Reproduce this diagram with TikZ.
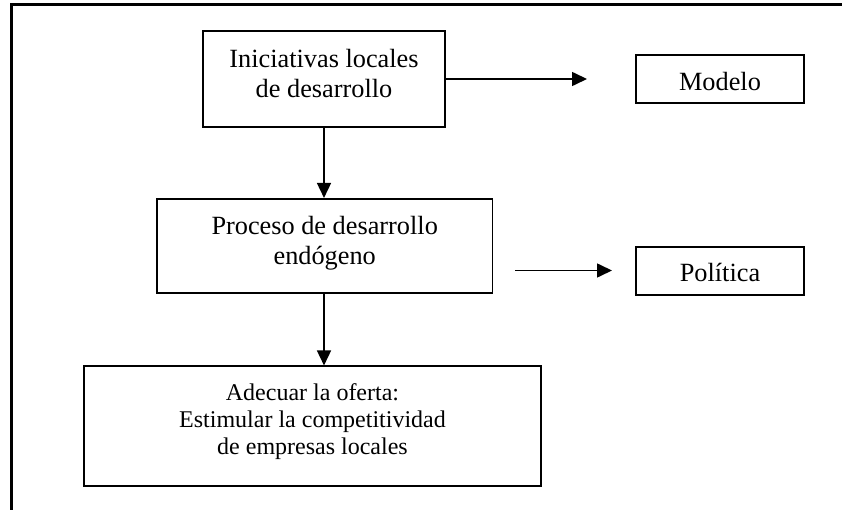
\documentclass[tikz,border=0pt]{standalone}
\usepackage{fontspec}
\setmainfont{Liberation Serif}
\usetikzlibrary{arrows.meta}
\begin{document}
\begin{tikzpicture}[x=1pt,y=-1pt,
  box/.style={draw,line width=1.6pt,rectangle,inner sep=0pt,align=center,
    font=\fontsize{26.3}{30}\selectfont},
  smallbox/.style={box,font=\fontsize{24}{27.2}\selectfont},
  arr/.style={line width=1.6pt,-{Triangle[length=15pt,width=14pt]}},
  frame/.style={line width=3pt}]
\useasboundingbox (0,0) rectangle (842,510);
\draw[frame] (11,515) -- (11,5) -- (850,5);
\node[box,minimum width=242pt,minimum height=96pt,text depth=12pt] (b1) at (324,79)
  {Iniciativas locales\\de desarrollo};
\node[box,minimum width=335.5pt,minimum height=94.5pt,text depth=11.4pt] (b2) at (324.7,246)
  {Proceso de desarrollo\\endógeno};
\node[smallbox,minimum width=457pt,minimum height=119.5pt,text depth=14pt] (b3) at (312.5,426)
  {Adecuar la oferta:\\Estimular la competitividad\\de empresas locales};
\node[box,minimum width=168pt,minimum height=48pt,text height=23.4pt,text depth=0pt] (m) at (720,79) {Modelo};
\node[box,minimum width=168pt,minimum height=48pt,text height=21.4pt,text depth=0pt] (p) at (720,271) {Política};
\coordinate (t1) at (587,79);
\coordinate (s2) at (515,270.5);
\coordinate (t2) at (612,270.5);
\draw[arr] (b1.east) -- (t1);
\draw[arr] (b1.south) -- (b2.north -| b1.south);
\draw[arr] (b2.south -| b1.south) -- (b3.north -| b1.south);
\draw[arr] (s2) -- (t2);
\end{tikzpicture}
\end{document}
